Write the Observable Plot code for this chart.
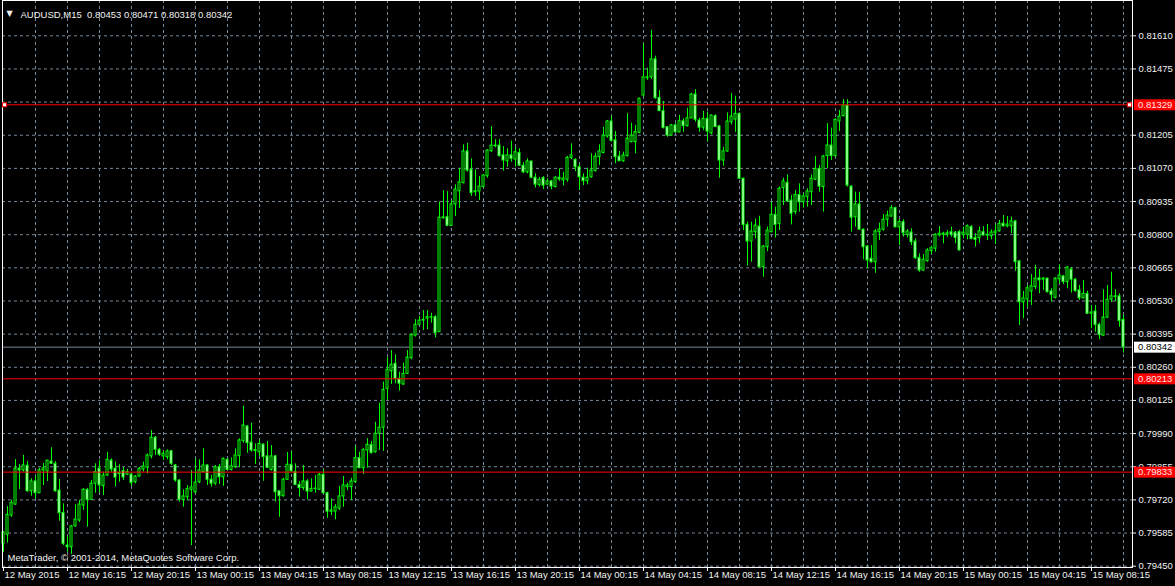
<!DOCTYPE html>
<html><head><meta charset="utf-8">
<script src="https://cdn.jsdelivr.net/npm/d3@7"></script>
<script src="https://cdn.jsdelivr.net/npm/@observablehq/plot@0.6"></script>
<style>
html,body{margin:0;padding:0;background:#000;overflow:hidden}
svg{display:block}
</style></head><body><div id="chart"></div>
<script>
const symbol = "AUDUSD,M15";
const copyright = "MetaTrader, \u00a9 2001-2014, MetaQuotes Software Corp.";

const open = [
0.79541,0.79578,0.79656,0.79701,0.79847,0.79840,0.79859,0.79755,0.79795,0.79747,
0.79840,0.79836,0.79876,0.79867,0.79758,0.79667,0.79534,0.79527,0.79612,0.79636,
0.79697,0.79761,0.79720,0.79786,0.79847,0.79776,0.79819,0.79880,0.79847,0.79825,
0.79837,0.79823,0.79823,0.79792,0.79815,0.79844,0.79851,0.79897,0.79973,0.79924,
0.79897,0.79894,0.79918,0.79860,0.79799,0.79720,0.79731,0.79761,0.79751,0.79792,
0.79833,0.79860,0.79802,0.79786,0.79853,0.79812,0.79883,0.79842,0.79853,0.79898,
0.79960,0.80019,0.79953,0.79923,0.79914,0.79945,0.79897,0.79842,0.79897,0.79755,
0.79735,0.79802,0.79863,0.79833,0.79781,0.79768,0.79795,0.79754,0.79764,0.79761,
0.79822,0.79747,0.79672,0.79672,0.79684,0.79734,0.79772,0.79772,0.79792,0.79890,
0.79849,0.79921,0.79944,0.79914,0.79989,0.80014,0.80172,0.80244,0.80274,0.80213,
0.80190,0.80233,0.80297,0.80389,0.80433,0.80450,0.80458,0.80462,0.80464,0.80403,
0.80867,0.80871,0.80836,0.80923,0.80977,0.81010,0.81139,0.81064,0.80973,0.80976,
0.80994,0.81038,0.81140,0.81160,0.81163,0.81123,0.81099,0.81123,0.81106,0.81133,
0.81081,0.81054,0.81098,0.81032,0.81003,0.81030,0.81004,0.81017,0.80994,0.81032,
0.81021,0.81024,0.81112,0.81105,0.81075,0.81032,0.81018,0.81034,0.81059,0.81116,
0.81133,0.81200,0.81261,0.81184,0.81118,0.81099,0.81120,0.81177,0.81177,0.81215,
0.81367,0.81437,0.81441,0.81514,0.81357,0.81303,0.81238,0.81204,0.81245,0.81217,
0.81262,0.81242,0.81274,0.81371,0.81265,0.81236,0.81272,0.81213,0.81283,0.81241,
0.81102,0.81139,0.81258,0.81269,0.81292,0.81028,0.80840,0.80772,0.80810,0.80833,
0.80668,0.80749,0.80810,0.80881,0.80844,0.80990,0.81011,0.80939,0.80892,0.80962,
0.80932,0.80953,0.80973,0.81024,0.81068,0.80994,0.81120,0.81163,0.81120,0.81261,
0.81283,0.81326,0.80996,0.80871,0.80923,0.80820,0.80752,0.80702,0.80688,0.80810,
0.80820,0.80861,0.80874,0.80908,0.80830,0.80851,0.80799,0.80809,0.80772,0.80706,
0.80654,0.80692,0.80733,0.80743,0.80797,0.80800,0.80801,0.80810,0.80808,0.80810,
0.80800,0.80800,0.80831,0.80787,0.80786,0.80810,0.80797,0.80794,0.80806,0.80814,
0.80845,0.80834,0.80834,0.80854,0.80691,0.80525,0.80536,0.80569,0.80587,0.80622,
0.80617,0.80621,0.80569,0.80543,0.80618,0.80630,0.80607,0.80658,0.80617,0.80573,
0.80541,0.80559,0.80478,0.80487,0.80433,0.80389,0.80462,0.80536,0.80546,0.80549,
0.80453];

const high = [
0.79591,0.79693,0.79718,0.79884,0.79864,0.79901,0.79876,0.79806,0.79815,0.79849,
0.79868,0.79880,0.79932,0.79876,0.79803,0.79704,0.79571,0.79616,0.79700,0.79718,
0.79766,0.79767,0.79799,0.79867,0.79880,0.79833,0.79914,0.79887,0.79874,0.79863,
0.79852,0.79844,0.79829,0.79819,0.79852,0.79874,0.79907,0.80002,0.79978,0.79930,
0.79918,0.79924,0.79921,0.79864,0.79802,0.79761,0.79778,0.79840,0.79887,0.79883,
0.79928,0.79864,0.79819,0.79860,0.79864,0.79891,0.79887,0.79891,0.79928,0.79969,
0.80101,0.80023,0.80033,0.79948,0.79964,0.79948,0.79958,0.79941,0.79901,0.79755,
0.79808,0.79913,0.79917,0.79867,0.79795,0.79860,0.79802,0.79806,0.79819,0.79828,
0.79842,0.79751,0.79724,0.79701,0.79775,0.79815,0.79788,0.79808,0.79937,0.79914,
0.79928,0.79969,0.79958,0.80036,0.80114,0.80200,0.80299,0.80328,0.80311,0.80240,
0.80277,0.80328,0.80396,0.80454,0.80467,0.80491,0.80491,0.80480,0.80470,0.80933,
0.80979,0.80975,0.80939,0.81003,0.81071,0.81166,0.81172,0.81109,0.81064,0.81037,
0.81045,0.81146,0.81240,0.81187,0.81187,0.81159,0.81150,0.81181,0.81156,0.81150,
0.81094,0.81109,0.81099,0.81048,0.81033,0.81037,0.81028,0.81021,0.81037,0.81068,
0.81054,0.81119,0.81170,0.81109,0.81085,0.81048,0.81071,0.81130,0.81132,0.81166,
0.81238,0.81265,0.81281,0.81220,0.81139,0.81136,0.81293,0.81254,0.81245,0.81356,
0.81577,0.81478,0.81632,0.81527,0.81387,0.81343,0.81238,0.81249,0.81252,0.81286,
0.81272,0.81315,0.81376,0.81391,0.81274,0.81302,0.81299,0.81288,0.81288,0.81245,
0.81156,0.81296,0.81374,0.81364,0.81296,0.81030,0.80851,0.80851,0.80864,0.80875,
0.80756,0.80831,0.80932,0.80912,0.80994,0.81030,0.81044,0.80960,0.80980,0.81007,
0.80967,0.80987,0.81044,0.81118,0.81082,0.81123,0.81252,0.81234,0.81272,0.81306,
0.81350,0.81350,0.81000,0.80973,0.80973,0.80824,0.80756,0.80756,0.80820,0.80847,
0.80882,0.80896,0.80919,0.80912,0.80861,0.80861,0.80820,0.80824,0.80783,0.80722,
0.80719,0.80743,0.80753,0.80804,0.80833,0.80810,0.80817,0.80831,0.80813,0.80817,
0.80831,0.80840,0.80837,0.80804,0.80831,0.80833,0.80842,0.80820,0.80840,0.80858,
0.80878,0.80874,0.80871,0.80858,0.80695,0.80569,0.80593,0.80638,0.80675,0.80659,
0.80626,0.80623,0.80580,0.80625,0.80675,0.80634,0.80670,0.80666,0.80621,0.80593,
0.80614,0.80570,0.80512,0.80512,0.80440,0.80576,0.80593,0.80647,0.80576,0.80559,
0.80471];

const low = [
0.79507,0.79544,0.79649,0.79697,0.79762,0.79833,0.79751,0.79735,0.79724,0.79745,
0.79779,0.79795,0.79864,0.79751,0.79633,0.79534,0.79507,0.79498,0.79609,0.79628,
0.79677,0.79609,0.79718,0.79747,0.79749,0.79738,0.79815,0.79833,0.79772,0.79792,
0.79799,0.79819,0.79775,0.79786,0.79812,0.79833,0.79826,0.79887,0.79901,0.79897,
0.79880,0.79883,0.79860,0.79792,0.79711,0.79690,0.79715,0.79534,0.79745,0.79786,
0.79829,0.79779,0.79772,0.79779,0.79783,0.79775,0.79840,0.79837,0.79847,0.79851,
0.79951,0.79910,0.79914,0.79864,0.79897,0.79796,0.79847,0.79837,0.79711,0.79649,
0.79731,0.79799,0.79833,0.79779,0.79731,0.79758,0.79720,0.79751,0.79747,0.79758,
0.79745,0.79645,0.79656,0.79639,0.79677,0.79690,0.79758,0.79718,0.79788,0.79847,
0.79823,0.79849,0.79907,0.79910,0.79921,0.79917,0.80125,0.80190,0.80193,0.80163,
0.80186,0.80231,0.80291,0.80383,0.80430,0.80410,0.80413,0.80440,0.80379,0.80402,
0.80863,0.80833,0.80833,0.80874,0.80907,0.81007,0.81055,0.80956,0.80956,0.80939,
0.80990,0.81030,0.81135,0.81154,0.81116,0.81059,0.81075,0.81095,0.81075,0.81078,
0.81049,0.81048,0.81028,0.80990,0.80994,0.80984,0.81000,0.80983,0.80990,0.81017,
0.80998,0.81014,0.81106,0.81057,0.80980,0.81000,0.81003,0.81030,0.81055,0.81082,
0.81129,0.81193,0.81177,0.81089,0.81098,0.81095,0.81116,0.81174,0.81129,0.81211,
0.81360,0.81428,0.81432,0.81351,0.81302,0.81231,0.81197,0.81201,0.81215,0.81215,
0.81217,0.81238,0.81272,0.81258,0.81217,0.81224,0.81177,0.81207,0.81237,0.81030,
0.81079,0.81136,0.81248,0.81217,0.81025,0.80817,0.80672,0.80688,0.80783,0.80664,
0.80627,0.80731,0.80808,0.80786,0.80817,0.80919,0.80932,0.80840,0.80881,0.80892,
0.80908,0.80912,0.80919,0.81021,0.80973,0.80892,0.81068,0.81102,0.81116,0.81220,
0.81279,0.80994,0.80810,0.80831,0.80817,0.80698,0.80661,0.80684,0.80643,0.80776,
0.80814,0.80831,0.80871,0.80828,0.80756,0.80790,0.80787,0.80756,0.80699,0.80647,
0.80651,0.80688,0.80719,0.80729,0.80790,0.80763,0.80790,0.80790,0.80763,0.80733,
0.80783,0.80779,0.80779,0.80749,0.80765,0.80794,0.80776,0.80779,0.80760,0.80810,
0.80831,0.80828,0.80804,0.80651,0.80430,0.80458,0.80505,0.80512,0.80576,0.80560,
0.80573,0.80562,0.80525,0.80538,0.80600,0.80597,0.80580,0.80562,0.80566,0.80532,
0.80538,0.80475,0.80417,0.80403,0.80373,0.80387,0.80458,0.80524,0.80527,0.80423,
0.80318];

const close = [
0.79588,0.79659,0.79708,0.79847,0.79840,0.79860,0.79755,0.79795,0.79747,0.79840,
0.79848,0.79880,0.79867,0.79755,0.79666,0.79541,0.79527,0.79612,0.79640,0.79701,
0.79761,0.79720,0.79786,0.79833,0.79779,0.79819,0.79883,0.79844,0.79811,0.79829,
0.79811,0.79833,0.79788,0.79815,0.79847,0.79856,0.79901,0.79973,0.79924,0.79904,
0.79908,0.79917,0.79867,0.79799,0.79720,0.79734,0.79764,0.79771,0.79790,0.79840,
0.79860,0.79802,0.79786,0.79853,0.79812,0.79887,0.79842,0.79857,0.79901,0.79962,
0.80023,0.79951,0.79921,0.79919,0.79948,0.79894,0.79851,0.79897,0.79751,0.79735,
0.79802,0.79863,0.79836,0.79781,0.79768,0.79795,0.79754,0.79764,0.79766,0.79822,
0.79747,0.79672,0.79677,0.79690,0.79734,0.79779,0.79779,0.79795,0.79890,0.79849,
0.79924,0.79944,0.79910,0.79989,0.80014,0.80168,0.80250,0.80270,0.80213,0.80193,
0.80233,0.80299,0.80392,0.80433,0.80450,0.80453,0.80464,0.80464,0.80399,0.80869,
0.80870,0.80836,0.80923,0.80984,0.81013,0.81139,0.81061,0.80969,0.80977,0.80996,
0.81041,0.81143,0.81163,0.81163,0.81120,0.81102,0.81123,0.81109,0.81136,0.81081,
0.81054,0.81098,0.81032,0.81004,0.81024,0.81000,0.81017,0.80996,0.81032,0.81025,
0.81029,0.81113,0.81123,0.81075,0.81034,0.81018,0.81032,0.81061,0.81118,0.81139,
0.81204,0.81261,0.81182,0.81116,0.81099,0.81123,0.81191,0.81204,0.81218,0.81354,
0.81441,0.81441,0.81514,0.81356,0.81303,0.81234,0.81204,0.81245,0.81217,0.81262,
0.81242,0.81274,0.81371,0.81268,0.81236,0.81272,0.81220,0.81285,0.81238,0.81102,
0.81139,0.81261,0.81281,0.81292,0.81028,0.80840,0.80772,0.80813,0.80837,0.80668,
0.80752,0.80817,0.80881,0.80840,0.80987,0.81017,0.80935,0.80885,0.80962,0.80932,
0.80956,0.80976,0.81028,0.81068,0.80996,0.81118,0.81163,0.81120,0.81268,0.81281,
0.81326,0.81000,0.80869,0.80923,0.80820,0.80749,0.80695,0.80688,0.80813,0.80821,
0.80861,0.80878,0.80908,0.80830,0.80851,0.80806,0.80813,0.80769,0.80704,0.80654,
0.80698,0.80736,0.80745,0.80800,0.80804,0.80804,0.80806,0.80800,0.80787,0.80736,
0.80808,0.80835,0.80783,0.80779,0.80814,0.80797,0.80800,0.80809,0.80813,0.80844,
0.80834,0.80841,0.80854,0.80688,0.80525,0.80541,0.80582,0.80590,0.80621,0.80614,
0.80621,0.80566,0.80555,0.80621,0.80634,0.80607,0.80666,0.80617,0.80570,0.80541,
0.80559,0.80478,0.80483,0.80433,0.80392,0.80462,0.80535,0.80549,0.80549,0.80448,
0.80342];

const priceTicks = [0.79450,0.79585,0.79720,0.79855,0.79990,0.80125,0.80260,0.80395,0.80530,
  0.80665,0.80800,0.80935,0.81070,0.81205,0.81340,0.81475,0.81610];
const timeTickIndex = [0,16,32,48,64,80,96,112,128,144,160,176,192,208,224,240,256,272];
const timeTickLabels = ["12 May 2015","12 May 16:15","12 May 20:15","13 May 00:15","13 May 04:15",
  "13 May 08:15","13 May 12:15","13 May 16:15","13 May 20:15","14 May 00:15","14 May 04:15",
  "14 May 08:15","14 May 12:15","14 May 16:15","14 May 20:15","15 May 00:15","15 May 04:15","15 May 08:15"];
const levelLines = [0.81329, 0.80213, 0.79833];

const candles = open.map((o, i) => ({i, o, h: high[i], l: low[i], c: close[i]}));
const last = candles[candles.length - 1];
const header = `${symbol}\u00a0\u00a0${last.o.toFixed(5)} ${last.h.toFixed(5)} ${last.l.toFixed(5)} ${last.c.toFixed(5)}`;

// the price-scale label hidden under the selected line's label is not shown
const labelTicks = priceTicks.filter(v => Math.abs(v - levelLines[0]) > 0.0002);

const W = 1175, H = 586, mL = 2, mR = 43, mT = 0, mB = 19;
const GRID = "#778899", LIME = "#00ff00", TXT = "#f2f2f2";
const FONT = "'Liberation Sans', Arial, sans-serif";

const chart = Plot.plot({
  width: W, height: H, marginLeft: mL, marginRight: mR, marginTop: mT, marginBottom: mB,
  style: {background: "#000", color: TXT, fontFamily: FONT, fontSize: "9.5px"},
  x: {type: "linear", domain: [-0.25, 282.25], ticks: timeTickIndex, tickFormat: () => "", tickSize: 4, label: null},
  y: {domain: [0.794446, 0.817538], axis: "right", ticks: labelTicks, tickFormat: d => d.toFixed(5),
      tickSize: 3, tickPadding: 3, label: null},
  marks: [
    Plot.ruleY(priceTicks, {stroke: GRID, strokeDasharray: "3,3"}),
    Plot.ruleX(d3.range(8, 281, 8), {stroke: GRID, strokeDasharray: "3,3"}),
    Plot.ruleY([last.c], {stroke: GRID}),
    Plot.ruleX(candles, {x: "i", y1: "l", y2: "h", stroke: LIME}),
    Plot.rect(candles.filter(d => d.c >= d.o), {x1: d => d.i - 0.25, x2: d => d.i + 0.25, y1: "o", y2: "c", fill: "#000", stroke: LIME}),
    Plot.rect(candles.filter(d => d.c < d.o), {x1: d => d.i - 0.25, x2: d => d.i + 0.25, y1: "o", y2: "c", fill: "#fff", stroke: LIME}),
    Plot.ruleY(levelLines, {stroke: "#ff0000"}),
    Plot.text(timeTickIndex, {x: d => d, text: (d, i) => timeTickLabels[i], frameAnchor: "bottom", textAnchor: "start", dx: 1, dy: 10, fill: TXT}),
    Plot.text([header], {frameAnchor: "top-left", textAnchor: "start", dx: 18, dy: 10.5, fill: TXT}),
    Plot.text(["\u25BC"], {frameAnchor: "top-left", textAnchor: "start", dx: 4, dy: 10, fill: TXT, fontFamily: "DejaVu Sans", fontSize: 8}),
    Plot.text([copyright], {frameAnchor: "bottom-left", textAnchor: "start", dx: 5, dy: -6.5, fill: TXT}),
    Plot.frame({stroke: "#ffffff"})
  ]
});

document.getElementById("chart").appendChild(chart);

// price labels for the horizontal lines, on the right price scale
const ys = chart.scale("y");
const svg = d3.select(chart);
const g = svg.append("g").attr("font-family", FONT).attr("font-size", "9.5px").attr("text-anchor", "start");
const boxes = [
  [levelLines[0], "#ff0000", "#ffe6e6"],
  [levelLines[1], "#ff0000", "#ffe6e6"],
  [levelLines[2], "#ff0000", "#ffe6e6"],
  [last.c, "#ffffff", "#000000"]
];
for (const [v, bg, fg] of boxes) {
  const yy = ys.apply(v) + 0.5;
  g.append("rect").attr("x", W - mR + 2).attr("y", yy - 5.5).attr("width", mR - 2).attr("height", 11).attr("fill", bg);
  g.append("text").attr("x", W - mR + 6).attr("y", yy).attr("dy", "0.35em").attr("text-anchor", "start")
    .attr("fill", fg).text(v.toFixed(5));
}
// selection handles of the selected line
const ySel = ys.apply(levelLines[0]) + 0.5;
for (const xx of [mL + 2.5, W - mR - 2.5]) {
  g.append("rect").attr("x", xx - 2).attr("y", ySel - 2).attr("width", 4).attr("height", 4)
    .attr("fill", "#fff").attr("stroke", "#ff0000").attr("stroke-width", 1);
}
</script>
</body></html>
